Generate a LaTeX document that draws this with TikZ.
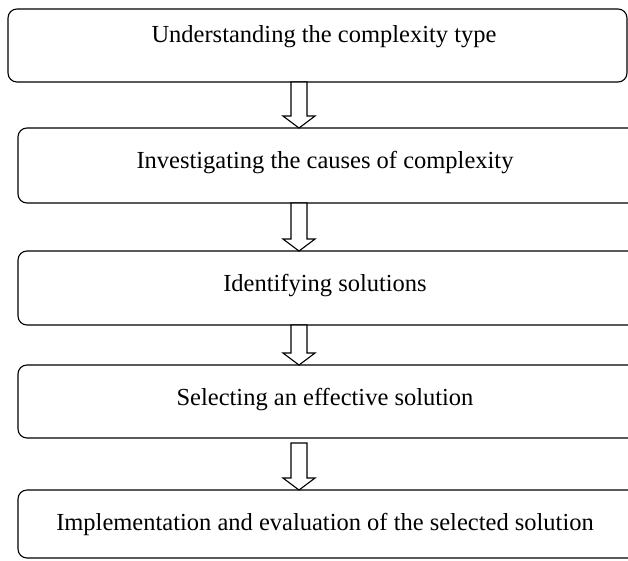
\documentclass[tikz,border=0pt]{standalone}
\usepackage{fontspec}
\setmainfont{Liberation Serif}
\usetikzlibrary{calc}
\newcommand{\hollowarrow}[3]{%
  \draw[arrowline] let \p1=(#1.south), \p2=(#2.north) in
    (\ax-8pt,\y1-#3) -- (\ax-8pt,\y2+12pt) -- (\ax-16pt,\y2+12pt) -- (\ax,\y2)
    -- (\ax+16pt,\y2+12pt) -- (\ax+8pt,\y2+12pt) -- (\ax+8pt,\y1-#3) -- cycle;}
\def\ax{299pt}
\begin{document}
\begin{tikzpicture}[x=1pt,y=-1pt,
  stepbox/.style={draw, line width=1.1pt, rounded corners=9pt, inner sep=0pt, outer sep=0pt},
  steptext/.style={anchor=base, inner sep=0pt, font=\fontsize{24.5}{28}\selectfont},
  arrowline/.style={draw, line width=1.1pt, fill=white, line join=miter}]
\useasboundingbox (0,0) rectangle (628,560);
\node[stepbox, minimum width=619pt, minimum height=73pt] (b1) at (317.5,45.5) {};
\node[stepbox, minimum width=620pt, minimum height=75pt] (b2) at (328,165.5) {};
\node[stepbox, minimum width=620pt, minimum height=74pt] (b3) at (328,288) {};
\node[stepbox, minimum width=620pt, minimum height=73pt] (b4) at (328,401.5) {};
\node[stepbox, minimum width=620pt, minimum height=68pt] (b5) at (328,524) {};
\node[steptext] (t1) at ($(b1.north)+(6.5,33)$) {Understanding the complexity type};
\node[steptext] (t2) at ($(b2.north)+(-3,40)$) {Investigating the causes of complexity};
\node[steptext] (t3) at ($(b3.north)+(-3,40)$) {Identifying solutions};
\node[steptext] (t4) at ($(b4.north)+(-3,40)$) {Selecting an effective solution};
\node[steptext] (t5) at ($(b5.north)+(-3,40)$) {Implementation and evaluation of the selected solution};
\hollowarrow{b1}{b2}{0pt}
\hollowarrow{b2}{b3}{0pt}
\hollowarrow{b3}{b4}{0pt}
\hollowarrow{b4}{b5}{5pt}
\end{tikzpicture}
\end{document}
